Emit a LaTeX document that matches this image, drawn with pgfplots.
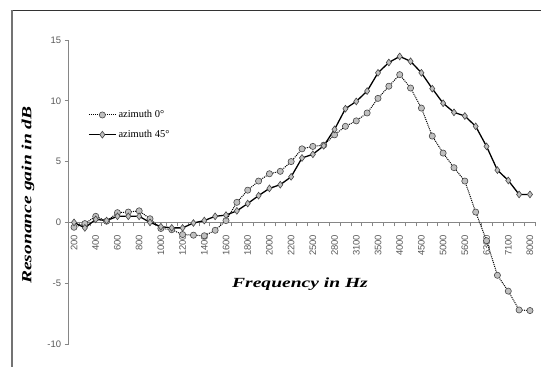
\documentclass[border=0pt]{standalone}
\usepackage{fontspec}
\setmainfont{Liberation Serif}
\newfontfamily\sansf{Liberation Sans}
\usepackage{pgfplots}
\pgfplotsset{compat=1.18}
\usepackage{pgfplotstable}
\definecolor{axgray}{RGB}{134,134,134}
\definecolor{lblgray}{RGB}{89,89,89}
\definecolor{mkfill}{RGB}{192,192,192}
\definecolor{mkedge}{RGB}{70,70,70}

\pgfplotstableread{
i a b
0 -0.4 0.0
1 -0.1 -0.45
2 0.5 0.25
3 0.1 0.15
4 0.8 0.5
5 0.85 0.5
6 0.95 0.5
7 0.3 0.0
8 -0.5 -0.35
9 -0.6 -0.45
10 -1.0 -0.45
11 -1.05 -0.05
12 -1.1 0.15
13 -0.65 0.5
14 0.15 0.6
15 1.65 0.95
16 2.65 1.55
17 3.4 2.2
18 4.0 2.8
19 4.2 3.1
20 5.0 3.75
21 6.05 5.3
22 6.25 5.6
23 6.35 6.3
24 7.2 7.65
25 7.9 9.35
26 8.35 9.95
27 9.0 10.8
28 10.2 12.3
29 11.2 13.15
30 12.15 13.65
31 11.05 13.25
32 9.4 12.3
33 7.1 11.0
34 5.7 9.8
35 4.5 9.05
36 3.4 8.75
37 0.85 7.9
38 -1.5 6.25
39 -4.35 4.3
40 -5.65 3.45
41 -7.2 2.3
42 -7.25 2.3
}\datatable

\begin{document}
\begin{tikzpicture}
\path[use as bounding box] (0,0) rectangle (541bp,367bp);
\draw[color=black!80, line width=1bp] (10.5bp,356.3bp) -- (545bp,356.3bp);
\draw[color=black!55, line width=2bp] (11.7bp,-2bp) -- (11.7bp,357bp);
\begin{axis}[
  at={(68.6bp,23bp)}, anchor=south west,
  width=466.8bp, height=304bp, scale only axis,
  xmin=-0.5, xmax=42.5, ymin=-10, ymax=15,
  axis x line=middle, axis y line=left,
  axis line style={-, draw=axgray, line width=0.75bp},
  hide obscured x ticks=false, hide obscured y ticks=false,
  xtick={0,2,...,42},
  xticklabels={200,400,600,800,1000,1200,1400,1600,1800,2000,2200,2500,2800,3100,3500,4000,4500,5000,5600,6300,7100,8000},
  major x tick style={draw=none},
  minor xtick={-0.5,0.5,...,42.5},
  minor x tick style={draw=axgray, line width=0.6bp},
  ytick={-10,-5,0,5,10,15},
  ytick style={draw=axgray, line width=0.6bp},
  tick align=outside,
  major tick length=4bp, minor tick length=4bp,
  /pgf/number format/assume math mode=true,
  xticklabel shift=5bp,
  xticklabel style={rotate=90, anchor=east, font=\sansf\fontsize{9.5}{10}\selectfont, text=lblgray},
  yticklabel style={font=\sansf\fontsize{9.5}{10}\selectfont, text=lblgray},
  legend style={at={(0.0416,0.775)}, anchor=north west, draw=none, fill=none,
    font=\fontsize{10.5}{12}\selectfont, row sep=7bp, inner sep=0pt},
  legend cell align=left,
  legend image code/.code={\draw[mark repeat=2,mark phase=2,#1] plot coordinates {(0bp,0bp) (13.5bp,0bp) (27bp,0bp)};},
  clip=false,
]
\addplot[black, densely dotted, line width=1bp, mark=*, mark size=3.1bp,
  mark options={solid, fill=mkfill, draw=mkedge, line width=0.6bp}] table[x=i,y=a]{\datatable};
\addlegendentry{azimuth 0°}
\addplot[black, line width=1.3bp, mark=diamond*, mark size=3.4bp,
  mark options={solid, fill=mkfill, draw=mkedge, line width=0.6bp}] table[x=i,y=b]{\datatable};
\addlegendentry{azimuth 45°}
\end{axis}
\node at (300bp,83bp) {\scalebox{1.4}[1]{\fontsize{14}{14}\selectfont\bfseries\itshape Frequency in Hz}};
\node[rotate=90] at (28bp,172bp) {\scalebox{1.4}[1]{\fontsize{14}{14}\selectfont\bfseries\itshape Resonance gain in dB}};
\end{tikzpicture}
\end{document}
